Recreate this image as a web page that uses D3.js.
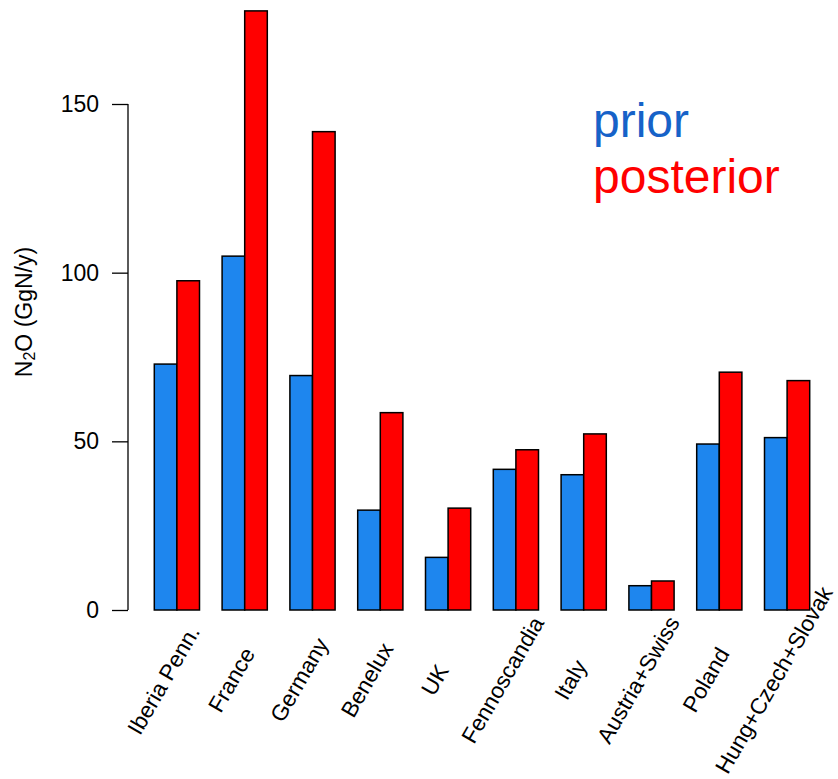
<!DOCTYPE html>
<html>
<head>
<meta charset="utf-8">
<script src="https://cdn.jsdelivr.net/npm/d3@7/dist/d3.min.js"></script>
<style>
  html, body { margin: 0; padding: 0; background: #fff; }
  svg { display: block; font-family: "Liberation Sans", Arial, Helvetica, sans-serif; }
</style>
</head>
<body>
<svg id="chart" width="838" height="779"></svg>
<script>
// Regional N2O emissions, prior vs posterior estimate (GgN/y)
const regions = ["Iberia Penn.", "France", "Germany", "Benelux", "UK",
                 "Fennoscandia", "Italy", "Austria+Swiss", "Poland", "Hung+Czech+Slovak"];
const prior     = [72.9, 104.9, 69.5, 29.6, 15.6, 41.7, 40.1, 7.2, 49.2, 51.1];
const posterior = [97.6, 177.6, 141.8, 58.5, 30.2, 47.5, 52.2, 8.6, 70.5, 68.0];
const yTicks = [0, 50, 100, 150];
const seriesNames = ["prior", "posterior"];

const barColors = { prior: "#1E86EE", posterior: "#FF0000" };
const legendColors = { prior: "#1662C8", posterior: "#FF0000" };

const svg = d3.select("#chart");

// Bar positions in barplot units: each group = 1 unit gap + 2 bars of width 1
const nUnits = regions.length * 3;
const x = d3.scaleLinear().domain([0, nUnits]).range([131.7, 809.7]);
const y = d3.scaleLinear().domain([0, 150]).range([610, 104]);

const groups = regions.map((r, i) => ({
  region: r,
  start: i * 3 + 1,
  values: [
    { key: "prior", value: prior[i] },
    { key: "posterior", value: posterior[i] }
  ]
}));

const g = svg.selectAll("g.group").data(groups).join("g").attr("class", "group");

g.selectAll("rect").data(d => d.values.map((v, j) => ({ ...v, u: d.start + j })))
  .join("rect")
  .attr("x", d => x(d.u))
  .attr("width", d => x(d.u + 1) - x(d.u))
  .attr("y", d => y(d.value))
  .attr("height", d => y(0) - y(d.value))
  .attr("fill", d => barColors[d.key])
  .attr("stroke", "#000")
  .attr("stroke-width", 1.5);

// Rotated category labels centred under each group
svg.selectAll("text.cat").data(groups).join("text")
  .attr("class", "cat")
  .attr("transform", d => `translate(${x(d.start + 1) - 13},680) rotate(-60)`)
  .attr("text-anchor", "middle")
  .attr("dominant-baseline", "central")
  .attr("font-size", 22.5)
  .attr("fill", "#000")
  .text(d => d.region);

// Y axis
const yAxis = d3.axisLeft(y).tickValues(yTicks).tickSize(16).tickSizeOuter(0).tickPadding(13);
const ax = svg.append("g").attr("transform", "translate(128,0)").call(yAxis);
ax.select(".domain").attr("stroke", "#000").attr("stroke-width", 1.3).attr("d", `M0,${y(150)}V${y(0)}`);
ax.selectAll(".tick line").attr("stroke", "#000").attr("stroke-width", 1.3);
ax.selectAll(".tick text").attr("font-size", 23).attr("fill", "#000")
  .attr("font-family", "'Liberation Sans', Arial, sans-serif");

// Y axis title with subscript
const yl = svg.append("text")
  .attr("transform", "translate(24,312) rotate(-90)")
  .attr("text-anchor", "middle")
  .attr("dominant-baseline", "central")
  .attr("font-size", 23)
  .attr("fill", "#000");
yl.append("tspan").text("N");
yl.append("tspan").attr("font-size", 16).attr("dy", 5).text("2");
yl.append("tspan").attr("dy", -5).text("O (GgN/y)");

// Legend as coloured words
svg.selectAll("text.leg").data(seriesNames).join("text")
  .attr("class", "leg")
  .attr("x", 593)
  .attr("y", (d, i) => 137 + i * 56)
  .attr("font-size", 48)
  .attr("fill", d => legendColors[d])
  .text(d => d);
</script>
</body>
</html>
